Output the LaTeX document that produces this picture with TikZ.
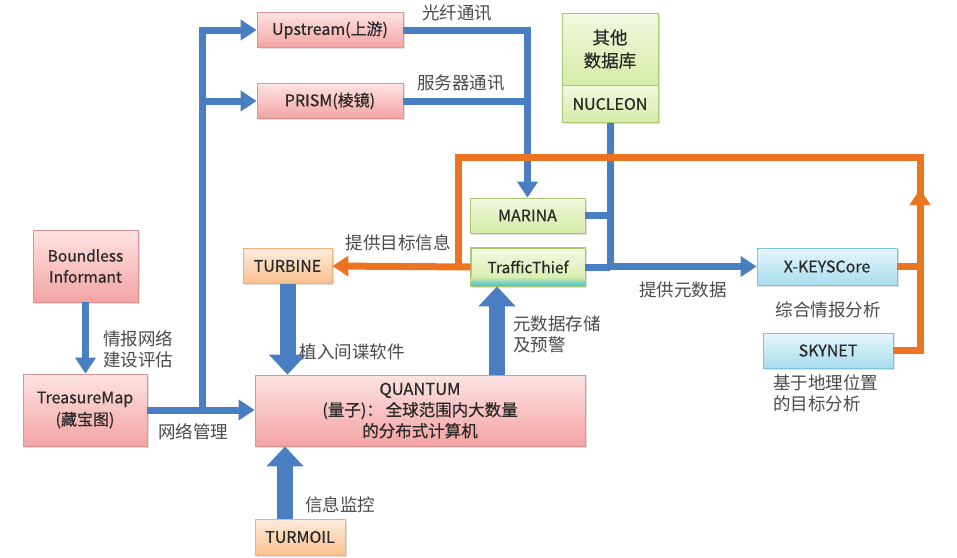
\documentclass[tikz,border=0pt]{standalone}
\usepackage{fontspec}
\setmainfont{Noto Sans CJK SC}
\newfontfamily\boxfont{Noto Sans CJK SC}[FakeBold=0.6]
\usetikzlibrary{arrows.meta,calc,shadows}
\definecolor{lnblue}{HTML}{4A7EC2}
\definecolor{lnorange}{HTML}{EC7420}
\definecolor{pinktop}{HTML}{FDE3E3}
\definecolor{pinkbot}{HTML}{F4A3A3}
\definecolor{pinkdraw}{HTML}{D99694}
\definecolor{greentop}{HTML}{F2F9E0}
\definecolor{greenbot}{HTML}{D5EBA6}
\definecolor{greendraw}{HTML}{A9C872}
\definecolor{orgtop}{HTML}{FDECDD}
\definecolor{orgbot}{HTML}{FAC08E}
\definecolor{orgdraw}{HTML}{F2AE74}
\definecolor{cyantop}{HTML}{E6F6FB}
\definecolor{cyanbot}{HTML}{A8DDEF}
\definecolor{cyandraw}{HTML}{7FC3DA}
\definecolor{cyanstrip}{HTML}{3CC0D8}
\definecolor{txt}{HTML}{2A2A2A}
\definecolor{labgray}{HTML}{4A4A4A}
\tikzset{
  box/.style={draw, line width=0.8pt, text=txt, font=\boxfont\fontsize{16}{20}\selectfont, align=center, inner sep=0pt,
    drop shadow={opacity=0.25, shadow xshift=1.5pt, shadow yshift=-1.5pt}},
  pinkbox/.style={box, draw=pinkdraw, top color=pinktop, bottom color=pinkbot},
  greenbox/.style={box, draw=greendraw, top color=greentop, bottom color=greenbot},
  orgbox/.style={box, draw=orgdraw, top color=orgtop, bottom color=orgbot},
  cyanbox/.style={box, draw=cyandraw, top color=cyantop, bottom color=cyanbot},
  bl/.style={draw=lnblue, line width=7pt},
  blarrow/.style={bl, -{Triangle[width=20pt,length=16pt]}},
  orl/.style={draw=lnorange, line width=7pt},
  orarrow/.style={orl, -{Triangle[width=20pt,length=16pt]}},
  big/.style={draw=lnblue, line width=16pt, -{Triangle[width=36pt,length=20pt]}},
  lab/.style={text=labgray, font=\fontsize{17.5}{21}\selectfont, inner sep=0pt},
}
\begin{document}
\begin{tikzpicture}[x=1pt,y=-1pt]
\fill[white] (0,0) rectangle (957,557);
\useasboundingbox (0,0) rectangle (957,557);

% nodes
\node[pinkbox, minimum width=146pt, minimum height=35pt] (up) at (330,30) {Upstream(上游)};
\node[pinkbox, minimum width=146pt, minimum height=35pt] (prism) at (330,101) {PRISM(棱镜)};
\node[greenbox, minimum width=96pt, minimum height=72pt, font=\boxfont\fontsize{17.5}{23}\selectfont] (other) at (610,49) {其他\\数据库};
\node[greenbox, minimum width=96pt, minimum height=37pt] (nucleon) at (610,104) {NUCLEON};
\node[greenbox, minimum width=115pt, minimum height=35pt] (marina) at (527.5,215.5) {MARINA};
\node[greenbox, minimum width=114pt, minimum height=38pt] (tt) at (528,267) {};
\fill[top color=greenbot, bottom color=cyanstrip] ($(tt.south west)+(0.5,-9)$) rectangle ($(tt.south east)+(-0.5,-0.5)$);
\draw[greendraw, line width=0.8pt] (tt.south west) rectangle (tt.north east);
\node[text=txt, font=\boxfont\fontsize{15.5}{18}\selectfont] (ttl) at (tt.center) {TrafficThief};
\node[orgbox, minimum width=89pt, minimum height=35pt] (turbine) at (287.5,266) {TURBINE};
\node[pinkbox, minimum width=105pt, minimum height=72pt, font=\boxfont\fontsize{15.5}{21}\selectfont] (bi) at (85.5,266) {Boundless\\Informant};
\node[pinkbox, minimum width=124pt, minimum height=72pt, font=\boxfont\fontsize{16}{22}\selectfont] (tm) at (85,410) {TreasureMap\\(藏宝图)};
\node[pinkbox, minimum width=330pt, minimum height=71pt, font=\boxfont\fontsize{16.5}{21}\selectfont] (quantum) at (420,410.5) {QUANTUM\\(量子)：\,全球范围内大数量\\的分布式计算机};
\node[orgbox, minimum width=90pt, minimum height=36pt] (tmoil) at (300,537) {TURMOIL};
\node[cyanbox, minimum width=140pt, minimum height=37pt] (xk) at (827,266.5) {X-KEYSCore};
\node[cyanbox, minimum width=130pt, minimum height=35pt] (sky) at (828,350.5) {SKYNET};

% coordinates
\coordinate (j1) at (202,410);
\coordinate (j2) at (202,101);
\coordinate (otl) at (458,157);
\coordinate (otr) at (920,157);
\coordinate (oa1) at (920,235);
\coordinate (oa2) at (920,189);
\coordinate (qa) at (497,0);
\coordinate (ta) at (285,0);

% blue connectors
\draw[blarrow] (bi.south) -- (bi.south |- tm.north);
\draw[blarrow] (tm.east) -- (tm.east -| quantum.west);
\draw[blarrow, line join=miter] (j1) |- (up.west);
\draw[blarrow] (j2) -- (prism.west);
\draw[blarrow, line join=miter] (up.east) -| (marina.north);
\draw[bl] (prism.east) -- (prism.east -| marina.north);
\draw[blarrow, line join=miter] (nucleon.south) |- (xk.west);
\draw[bl] (marina.east) -- (marina.east -| nucleon.south);
\draw[bl] (tt.east) -- (tt.east -| nucleon.south);

% orange connectors
\draw[orl, line join=miter] (sky.east) -| (otr) -- (otl) -- (otl |- tt.west);
\draw[orl] (xk.east) -- (xk.east -| otr);
\draw[orarrow] (oa1) -- (oa2);
\draw[orarrow] (tt.west) -- (turbine.east);

% block arrows
\draw[big] (turbine.south) -- (turbine.south |- quantum.north);
\draw[big] (quantum.north -| qa) -- (tt.south -| qa);
\draw[big] (tmoil.north -| ta) -- (quantum.south -| ta);

% labels
\node[lab] (l1) at (457,13) {光纤通讯};
\node[lab] (l2) at (461,83) {服务器通讯};
\node[lab] (l3) at (398,243) {提供目标信息};
\node[lab] (l4) at (683,290) {提供元数据};
\node[lab] (l5) at (828,310) {综合情报分析};
\node[lab, anchor=north west, align=left] (l6) at (773,374) {基于地理位置\\的目标分析};
\node[lab, anchor=north west, align=left] (l7) at (513,316) {元数据存储\\及预警};
\node[lab] (l8) at (352,352) {植入间谍软件};
\node[lab] (l9) at (340,505) {信息监控};
\node[lab, align=left] (l10) at (138,349) {情报网络\\建设评估};
\node[lab] (l11) at (193,432) {网络管理};
\end{tikzpicture}
\end{document}
